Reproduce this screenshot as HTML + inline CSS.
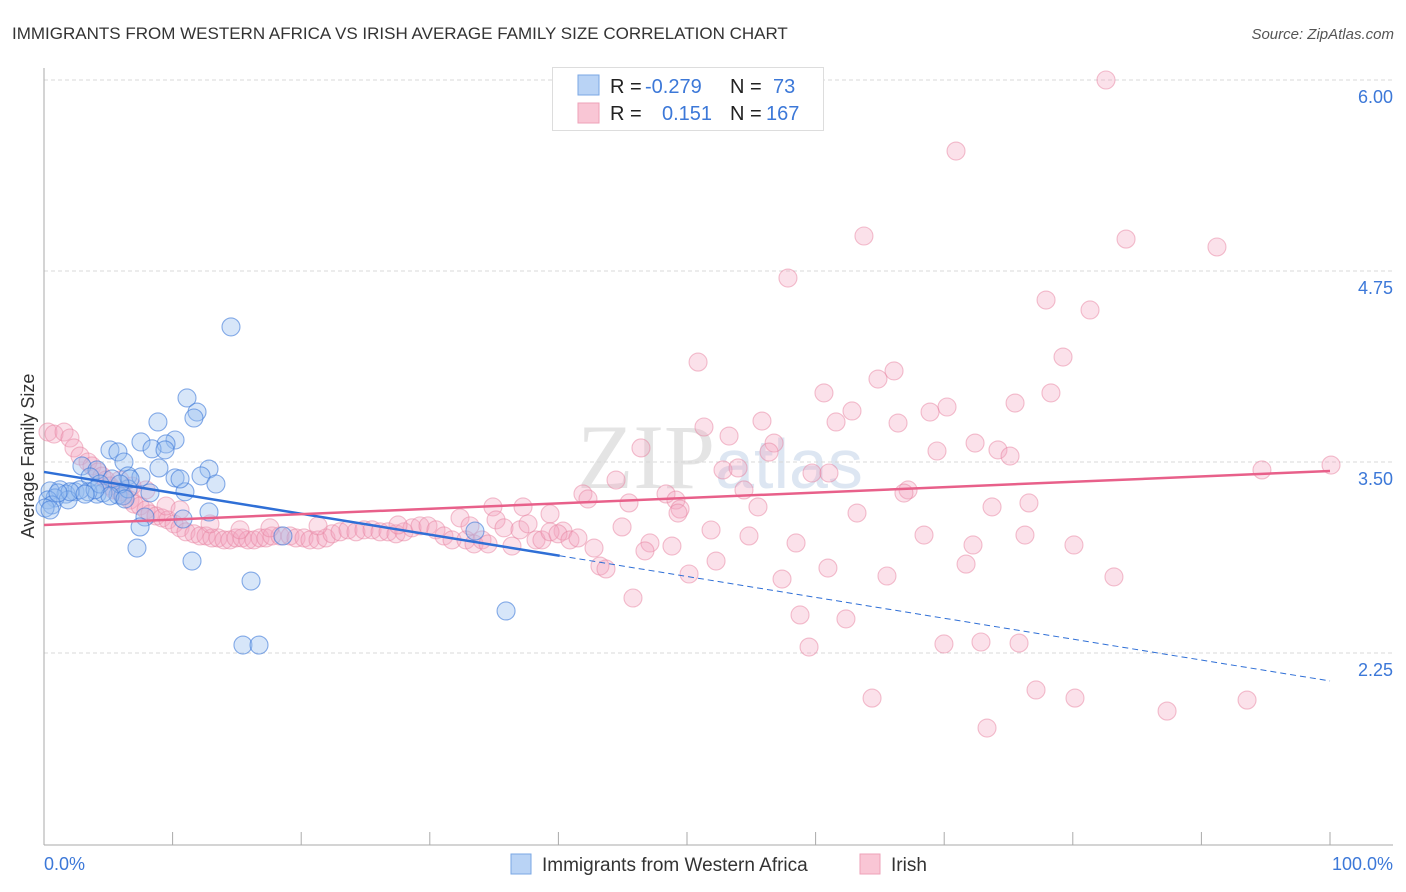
<!DOCTYPE html>
<html><head><meta charset="utf-8"><style>
body{margin:0;background:#fff;font-family:"Liberation Sans",sans-serif}
svg{display:block}
</style></head><body>
<svg id="chart" width="1406" height="892">
<text x="12" y="39" font-size="17" fill="#333">IMMIGRANTS FROM WESTERN AFRICA VS IRISH AVERAGE FAMILY SIZE CORRELATION CHART</text>
<text x="1394" y="39" font-size="15" fill="#555" font-style="italic" text-anchor="end">Source: ZipAtlas.com</text>
<text x="720" y="488" font-size="92" fill="#e4e4e4" text-anchor="middle" font-family="Liberation Serif,serif">ZIP<tspan fill="#dde6f2" font-family="Liberation Sans,sans-serif" font-size="70">atlas</tspan></text>
<g id="grid"></g>
<g id="axes"></g>
<g id="pts"></g>
<g id="trends"></g>
<text x="34" y="456" font-size="18" fill="#333" text-anchor="middle" transform="rotate(-90 34 456)">Average Family Size</text>
<g>
<rect x="552.5" y="67.5" width="271" height="63" fill="#fff" stroke="#ddd"/>
<rect x="578" y="75" width="21" height="20" fill="#b9d3f5" stroke="#7aa7e4"/>
<rect x="578" y="103" width="21" height="20" fill="#f9c6d5" stroke="#eea2b8"/>
<text y="93" font-size="20" fill="#222"><tspan x="610">R =</tspan><tspan x="645" fill="#3c78d8">-0.279</tspan><tspan x="730">N =</tspan><tspan x="773" fill="#3c78d8">73</tspan></text>
<text y="120" font-size="20" fill="#222"><tspan x="610">R =</tspan><tspan x="662" fill="#3c78d8">0.151</tspan><tspan x="730">N =</tspan><tspan x="766" fill="#3c78d8">167</tspan></text>
</g>
<g>
<rect x="511" y="854" width="20" height="20" fill="#b9d3f5" stroke="#7aa7e4"/>
<text x="542" y="871" font-size="19" fill="#333">Immigrants from Western Africa</text>
<rect x="860" y="854" width="20" height="20" fill="#f9c6d5" stroke="#eea2b8"/>
<text x="891" y="871" font-size="19" fill="#333">Irish</text>
</g>
</svg>
<script>
const yTicks=[6.00,4.75,3.50,2.25];
const xTickCount=10;
const blueX=[14.54,11.12,11.90,11.66,8.86,10.19,9.49,7.54,5.13,5.75,8.40,9.41,6.22,2.95,4.12,6.53,8.94,12.83,12.21,7.54,10.19,3.58,13.37,5.29,8.24,10.96,5.75,4.12,4.59,2.41,1.24,0.47,1.71,3.42,0.86,0.31,0.62,1.87,0.08,0.47,7.85,7.47,10.81,12.83,6.14,6.53,7.23,11.51,16.10,15.47,16.72,35.93,33.51,18.58,2.80,2.02,1.09,4.35,6.69,5.91,5.13,6.30,3.97,3.19,10.58];
const blueY=[4.384,3.919,3.827,3.788,3.762,3.644,3.618,3.631,3.579,3.566,3.586,3.579,3.500,3.474,3.448,3.409,3.461,3.454,3.409,3.402,3.396,3.402,3.356,3.389,3.298,3.305,3.284,3.290,3.298,3.305,3.318,3.311,3.290,3.305,3.265,3.252,3.219,3.252,3.199,3.186,3.140,3.075,3.127,3.173,3.278,3.324,2.937,2.852,2.721,2.302,2.302,2.525,3.048,3.016,3.318,3.305,3.298,3.356,3.389,3.356,3.278,3.258,3.318,3.290,3.389];
const pinkX=[82.58,70.92,63.76,84.14,91.21,57.85,77.92,81.34,79.24,50.86,66.10,64.85,60.65,78.30,62.83,70.22,68.90,75.51,51.32,55.83,66.41,61.59,53.27,56.77,46.42,69.44,72.40,74.18,75.12,56.38,52.80,53.97,59.72,61.04,44.48,94.71,100.08,54.43,67.19,66.87,48.37,49.14,45.49,41.91,42.30,34.91,37.25,39.35,40.36,49.46,55.52,63.22,49.30,73.72,76.59,44.95,51.87,54.82,68.43,76.28,47.12,58.48,48.83,72.24,80.09,42.77,46.73,43.23,43.70,60.96,71.70,50.16,52.26,57.39,65.55,83.20,45.80,58.79,62.36,59.49,69.98,72.86,75.82,77.14,64.39,80.17,87.33,93.55,73.33,
0.31,0.78,1.56,2.02,2.33,2.80,3.42,3.73,4.20,4.51,4.82,5.13,5.44,5.91,6.22,6.69,7.00,7.47,7.93,8.24,8.71,9.18,9.64,10.11,10.58,11.04,11.66,12.13,12.60,13.06,13.53,14.00,14.46,14.93,15.40,15.86,16.33,16.80,17.26,17.73,18.35,19.13,19.60,20.22,20.68,21.31,21.93,22.40,23.02,23.64,24.26,24.88,25.51,26.13,26.75,27.37,27.99,28.62,29.24,29.86,30.48,31.10,31.73,32.35,32.81,33.44,34.06,34.53,35.15,35.77,36.39,37.01,37.64,38.26,38.72,39.35,39.97,40.90,41.52,21.31,27.53,33.13,7.93,5.91,6.84,9.49,10.58,12.91,15.24,17.57];
const pinkY=[6.00,5.535,4.979,4.959,4.907,4.704,4.560,4.495,4.187,4.154,4.096,4.043,3.952,3.952,3.834,3.860,3.827,3.886,3.729,3.768,3.755,3.762,3.670,3.624,3.592,3.572,3.624,3.579,3.539,3.565,3.448,3.461,3.428,3.428,3.382,3.448,3.480,3.317,3.317,3.297,3.291,3.251,3.232,3.291,3.258,3.206,3.206,3.160,3.048,3.192,3.206,3.166,3.166,3.206,3.232,3.075,3.055,3.016,3.022,3.022,2.970,2.970,2.950,2.957,2.957,2.937,2.918,2.819,2.800,2.806,2.832,2.767,2.852,2.734,2.754,2.748,2.610,2.499,2.473,2.289,2.309,2.322,2.315,2.008,1.955,1.955,1.870,1.942,1.759,
3.696,3.683,3.696,3.657,3.592,3.539,3.500,3.474,3.435,3.408,3.382,3.343,3.317,3.304,3.278,3.251,3.225,3.212,3.186,3.160,3.147,3.134,3.121,3.095,3.069,3.043,3.030,3.016,3.016,3.003,3.003,2.990,2.990,3.003,3.003,2.990,2.990,3.003,3.003,3.016,3.016,3.016,3.003,3.003,2.990,2.990,3.003,3.030,3.043,3.056,3.043,3.056,3.056,3.043,3.043,3.030,3.043,3.069,3.082,3.082,3.056,3.016,2.990,3.134,2.990,2.964,2.990,2.964,3.121,3.069,2.950,3.056,3.095,2.990,2.990,3.043,3.030,2.990,3.003,3.082,3.088,3.082,3.317,3.382,3.343,3.212,3.186,3.095,3.056,3.069];
const blueTrend=[3.435,2.067];
const pinkTrend=[3.088,3.441];
const blueSolidEnd=40.1;

const NS="http://www.w3.org/2000/svg";
const X0=44,X1=1330,Y6=80,PXU=152.8;
const sx=v=>X0+(X1-X0)*v/100;
const sy=v=>Y6+(6-v)*PXU;
function mk(tag,attrs,parent){const e=document.createElementNS(NS,tag);for(const k in attrs)e.setAttribute(k,attrs[k]);parent.appendChild(e);return e;}
const grid=document.getElementById('grid'),axes=document.getElementById('axes'),pts=document.getElementById('pts'),tr=document.getElementById('trends');
yTicks.forEach(t=>{
  const l=mk('line',{x1:44,x2:1393,y1:sy(t),y2:sy(t),stroke:'#d8d8d8','stroke-dasharray':'4,3'},grid);
  
  
  const tx=mk('text',{x:1393,y:sy(t)+23,'font-size':18,fill:'#3c78d8','text-anchor':'end'},grid);
  tx.textContent=t.toFixed(2);
  
  
});
const ya=mk('line',{x1:44,x2:44,y1:68,y2:845,stroke:'#aaa'},axes);


const xa=mk('line',{x1:44,x2:1393,y1:845,y2:845,stroke:'#aaa'},axes);


for(let i=0;i<=xTickCount;i++){
  const tk=mk('line',{x1:sx(i*10),x2:sx(i*10),y1:832,y2:845,stroke:'#aaa'},axes);
  
  
}
const xl0=mk('text',{x:44,y:870,'font-size':18,fill:'#3c78d8'},axes);xl0.textContent='0.0%';


const xl1=mk('text',{x:1393,y:870,'font-size':18,fill:'#3c78d8','text-anchor':'end'},axes);xl1.textContent='100.0%';


pinkX.forEach((v,i)=>{
  const c=mk('circle',{cx:sx(v),cy:sy(pinkY[i]),r:9,fill:'rgba(244,165,190,0.33)',stroke:'rgba(232,130,160,0.5)','stroke-width':1.1},pts);
  
  
});
blueX.forEach((v,i)=>{
  const c=mk('circle',{cx:sx(v),cy:sy(blueY[i]),r:9,fill:'rgba(150,190,240,0.38)',stroke:'rgba(60,120,216,0.6)','stroke-width':1.1},pts);
  
  
});
const by=x=>blueTrend[0]+(blueTrend[1]-blueTrend[0])*x/100;
const b1=mk('line',{x1:sx(0),y1:sy(by(0)),x2:sx(blueSolidEnd),y2:sy(by(blueSolidEnd)),stroke:'#2f6fd6','stroke-width':2.5},tr);


const b2=mk('line',{x1:sx(blueSolidEnd),y1:sy(by(blueSolidEnd)),x2:sx(100),y2:sy(by(100)),stroke:'#2f6fd6','stroke-width':1,'stroke-dasharray':'6,4'},tr);


const p1=mk('line',{x1:sx(0),y1:sy(pinkTrend[0]),x2:sx(100),y2:sy(pinkTrend[1]),stroke:'#e8608a','stroke-width':2.5},tr);


</script>
</body></html>
